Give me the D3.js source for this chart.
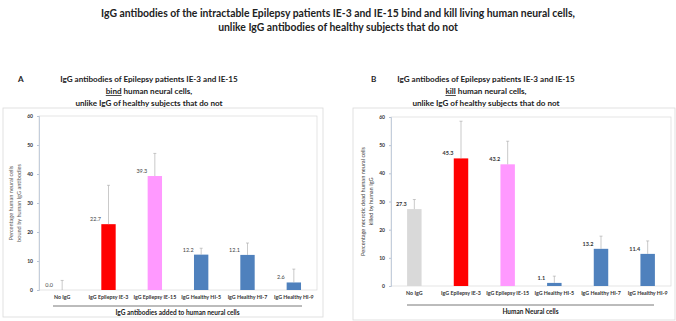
<!DOCTYPE html>
<html>
<head>
<meta charset="utf-8">
<script src="https://cdn.jsdelivr.net/npm/d3@7"></script>
<style>
  body { margin: 0; background: #fff; }
  svg { font-family: Lato, "Open Sans", sans-serif; }
</style>
</head>
<body>
<svg width="676" height="321"></svg>
<script>
const categories = ["No IgG", "IgG Epilepsy IE-3", "IgG Epilepsy IE-15", "IgG Healthy HI-5", "IgG Healthy HI-7", "IgG Healthy HI-9"];
const barColors = ["#d9d9d9", "#ff0000", "#ff99ff", "#4f81bd", "#4f81bd", "#4f81bd"];
const bindValues = [0.0, 22.7, 39.3, 12.2, 12.1, 2.6];
const bindErrors = [3.3, 13.4, 7.8, 2.2, 4.1, 4.6];
const killValues = [27.3, 45.3, 43.2, 1.1, 13.2, 11.4];
const killErrors = [3.4, 13.2, 8.2, 2.4, 4.5, 4.6];
const yTicks = [0, 10, 20, 30, 40, 50, 60];

const svg = d3.select("svg");

svg.append("text").attr("x", 338).attr("y", 17).attr("text-anchor", "middle")
  .attr("font-size", 10.4).attr("font-weight", "bold").attr("fill", "#222")
  .text("IgG antibodies of the intractable Epilepsy patients IE-3 and IE-15 bind and kill living human neural cells,");
svg.append("text").attr("x", 338).attr("y", 31).attr("text-anchor", "middle")
  .attr("font-size", 10.4).attr("font-weight", "bold").attr("fill", "#222")
  .text("unlike IgG antibodies of healthy subjects that do not");

function panel(opt) {
  const g = svg.append("g");

  // letter and subtitle
  g.append("text").attr("x", opt.letterX).attr("y", 82).attr("font-size", 8.1)
    .attr("font-weight", "bold").attr("fill", "#222").text(opt.letter);
  const sub = g.append("text").attr("text-anchor", "middle").attr("font-size", 8.1)
    .attr("font-weight", "bold").attr("fill", "#222");
  sub.append("tspan").attr("x", opt.subX).attr("y", 82).text("IgG antibodies of Epilepsy patients IE-3 and IE-15");
  const l2 = sub.append("tspan").attr("x", opt.subX).attr("y", 94);
  l2.append("tspan").attr("text-decoration", "underline").text(opt.verb);
  l2.append("tspan").text(" human neural cells,");
  sub.append("tspan").attr("x", opt.subX).attr("y", 106).text("unlike IgG of healthy subjects that do not");

  // chart frame
  g.append("rect").attr("x", opt.box[0]).attr("y", opt.box[1])
    .attr("width", opt.box[2] - opt.box[0]).attr("height", opt.box[3] - opt.box[1])
    .attr("fill", "#fff").attr("stroke", "#d9d9d9").attr("stroke-width", 0.8);

  const [x0, y0, x1, y1] = opt.plot;
  const x = d3.scaleBand().domain(categories).range([x0, x1]).padding(0);
  const y = d3.scaleLinear().domain([0, 60]).range([y1, y0]);

  g.append("rect").attr("x", x0).attr("y", y0).attr("width", x1 - x0).attr("height", y1 - y0)
    .attr("fill", "none").attr("stroke", "#d9d9d9").attr("stroke-width", 0.7);

  const yAxis = g.append("g").attr("transform", `translate(${x0},0)`)
    .call(d3.axisLeft(y).tickValues(yTicks).tickSize(2).tickPadding(4));
  yAxis.select(".domain").attr("stroke", "#b8c4d6").attr("stroke-width", 0.8);
  yAxis.selectAll(".tick line").attr("stroke", "#b8c4d6");
  yAxis.selectAll("text").attr("font-size", 5).attr("font-weight", "bold")
    .attr("fill", "#333").attr("font-family", "Lato, sans-serif");

  const bw = x.bandwidth() * 0.31;
  const cx = d => x(d) + x.bandwidth() / 2;

  g.selectAll(".bar").data(categories).join("rect")
    .attr("x", d => cx(d) - bw / 2)
    .attr("y", (d, i) => y(opt.values[i]))
    .attr("width", bw)
    .attr("height", (d, i) => y(0) - y(opt.values[i]))
    .attr("fill", (d, i) => barColors[i]);

  // error bars (plus direction)
  const eb = g.selectAll(".err").data(categories).join("g");
  eb.append("line")
    .attr("x1", d => cx(d)).attr("x2", d => cx(d))
    .attr("y1", (d, i) => y(opt.values[i]))
    .attr("y2", (d, i) => y(opt.values[i] + opt.errors[i]))
    .attr("stroke", "#a6a6a6").attr("stroke-width", 0.6);
  eb.append("line")
    .attr("x1", d => cx(d) - 1.5).attr("x2", d => cx(d) + 1.5)
    .attr("y1", (d, i) => y(opt.values[i] + opt.errors[i]))
    .attr("y2", (d, i) => y(opt.values[i] + opt.errors[i]))
    .attr("stroke", "#a6a6a6").attr("stroke-width", 0.6);

  // value labels
  g.selectAll(".val").data(categories).join("text")
    .attr("x", d => cx(d) - 13)
    .attr("y", (d, i) => y(opt.values[i]) - 3)
    .attr("text-anchor", "middle").attr("font-size", 5.5)
    .attr("font-weight", opt.labelWeight).attr("fill", opt.labelColor)
    .text((d, i) => opt.values[i].toFixed(1));

  // category labels
  g.selectAll(".cat").data(categories).join("text")
    .attr("x", d => cx(d)).attr("y", opt.catY)
    .attr("text-anchor", "middle").attr("font-size", 5.3).attr("font-weight", "bold")
    .attr("fill", "#333").text(d => d);

  g.append("line").attr("x1", opt.rule[0]).attr("x2", opt.rule[1])
    .attr("y1", opt.ruleY).attr("y2", opt.ruleY).attr("stroke", "#555").attr("stroke-width", 0.8);
  g.append("text").attr("x", (opt.rule[0] + opt.rule[1]) / 2).attr("y", opt.ruleY + 9)
    .attr("text-anchor", "middle").attr("font-size", 6.5).attr("font-weight", "bold")
    .attr("fill", "#222").text(opt.xTitle);

  // y title
  const yt = g.append("text").attr("transform", `translate(${opt.yTitleX},${(y0 + y1) / 2}) rotate(-90)`)
    .attr("text-anchor", "middle").attr("font-size", 5.6).attr("fill", opt.yTitleColor);
  yt.append("tspan").attr("x", 0).attr("y", 0).text(opt.yTitle[0]);
  yt.append("tspan").attr("x", 0).attr("y", 8).text(opt.yTitle[1]);
}

panel({
  letter: "A", letterX: 18, verb: "bind", subX: 149,
  box: [3, 108, 323, 317], plot: [39, 116, 317, 290],
  values: bindValues, errors: bindErrors,
  labelWeight: "normal", labelColor: "#444",
  catY: 299, rule: [53, 302], ruleY: 306,
  xTitle: "IgG antibodies added to human neural cells",
  yTitle: ["Percentage human neural cells", "bound by human IgG antibodies"],
  yTitleX: 13, yTitleColor: "#595959"
});

panel({
  letter: "B", letterX: 371, verb: "kill", subX: 486,
  box: [353, 108, 675, 320], plot: [391, 117, 671, 286],
  values: killValues, errors: killErrors,
  labelWeight: "bold", labelColor: "#333",
  catY: 295, rule: [407, 654], ruleY: 305,
  xTitle: "Human Neural cells",
  yTitle: ["Percentage necrotic dead human neural cells", "killed by human IgG"],
  yTitleX: 365, yTitleColor: "#444"
});
</script>
</body>
</html>
